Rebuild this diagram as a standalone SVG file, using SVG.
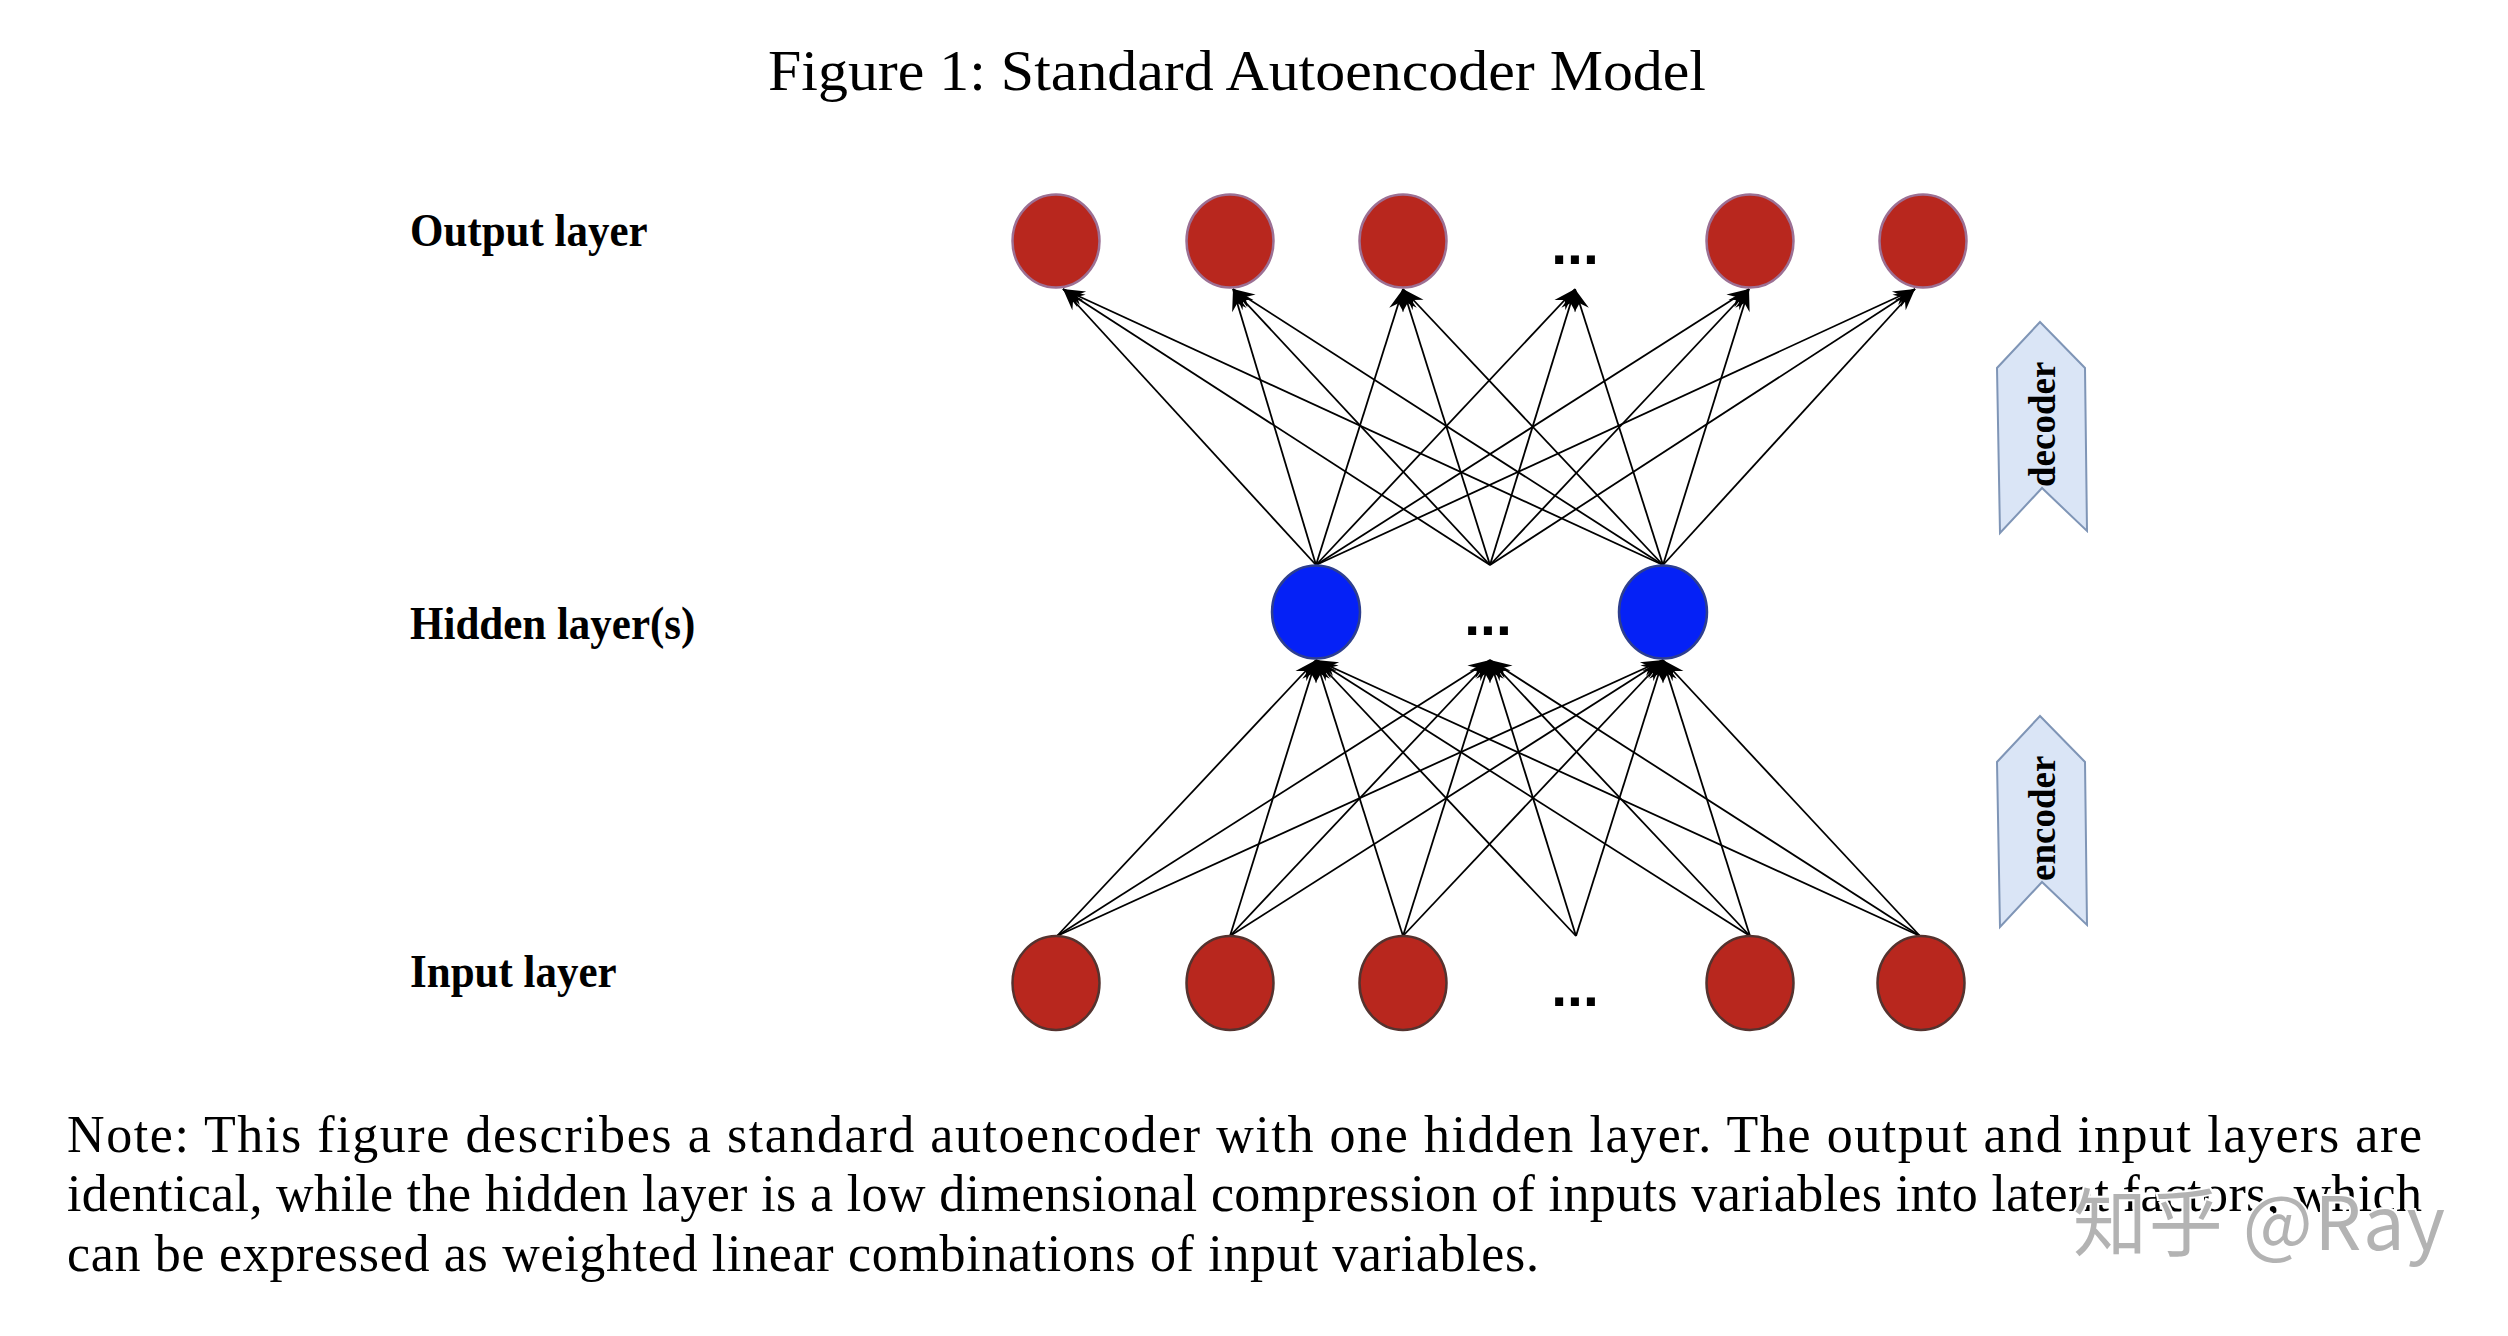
<svg xmlns="http://www.w3.org/2000/svg" width="2508" height="1336" viewBox="0 0 2508 1336">
<style>
.serif{font-family:"Liberation Serif","Times New Roman",serif;fill:#000}
.lbl{font-family:"Liberation Serif","Times New Roman",serif;font-weight:bold;font-size:43px;fill:#000}
.dots{font-family:"Liberation Sans",Arial,sans-serif;font-weight:bold;font-size:57px;fill:#000;text-anchor:middle}
.side{font-family:"Liberation Serif","Times New Roman",serif;font-weight:bold;font-size:37px;fill:#000}
.out{fill:#B8271E;stroke:#9C7094;stroke-width:2.5}
.inp{fill:#B8271E;stroke:#55332F;stroke-width:2.5}
.hid{fill:#0521F6;stroke:#2E3F8E;stroke-width:2.5}
.chev{fill:#DAE5F6;stroke:#7F95B6;stroke-width:2}
.edge{stroke:#000;stroke-width:1.8;fill:none;marker-end:url(#ah)}
.note{font-family:"Liberation Serif","Times New Roman",serif;font-size:52px;fill:#000}
</style>
<defs>
<marker id="ah" markerUnits="userSpaceOnUse" viewBox="-24 -10 26 20" refX="0" refY="0" markerWidth="26" markerHeight="20" orient="auto" overflow="visible">
<path d="M0,0 L-22,-7.5 L-15,0 L-22,7.5 Z" fill="#000"/>
</marker>
</defs>
<rect width="2508" height="1336" fill="#fff"/>

<text id="title" class="serif" x="768" y="90" font-size="58" textLength="938" lengthAdjust="spacingAndGlyphs">Figure 1: Standard Autoencoder Model</text>

<g id="labels">
<text class="lbl" transform="translate(410,246) scale(1,1.1)">Output layer</text>
<text class="lbl" transform="translate(410,639) scale(1,1.1)">Hidden layer(s)</text>
<text class="lbl" transform="translate(410,987) scale(1,1.1)">Input layer</text>
</g>

<g id="connectors">
<!-- decoder: hidden (y=565) to output (y=289) -->
<line class="edge" x1="1316" y1="565" x2="1063" y2="289"/>
<line class="edge" x1="1316" y1="565" x2="1233" y2="289"/>
<line class="edge" x1="1316" y1="565" x2="1403" y2="289"/>
<line class="edge" x1="1316" y1="565" x2="1575" y2="289"/>
<line class="edge" x1="1316" y1="565" x2="1749" y2="289"/>
<line class="edge" x1="1316" y1="565" x2="1915" y2="289"/>
<line class="edge" x1="1490" y1="565" x2="1063" y2="289"/>
<line class="edge" x1="1490" y1="565" x2="1233" y2="289"/>
<line class="edge" x1="1490" y1="565" x2="1403" y2="289"/>
<line class="edge" x1="1490" y1="565" x2="1575" y2="289"/>
<line class="edge" x1="1490" y1="565" x2="1749" y2="289"/>
<line class="edge" x1="1490" y1="565" x2="1915" y2="289"/>
<line class="edge" x1="1663" y1="565" x2="1063" y2="289"/>
<line class="edge" x1="1663" y1="565" x2="1233" y2="289"/>
<line class="edge" x1="1663" y1="565" x2="1403" y2="289"/>
<line class="edge" x1="1663" y1="565" x2="1575" y2="289"/>
<line class="edge" x1="1663" y1="565" x2="1749" y2="289"/>
<line class="edge" x1="1663" y1="565" x2="1915" y2="289"/>
<!-- encoder: input (y=936) to hidden (y=660) -->
<line class="edge" x1="1057" y1="936" x2="1316" y2="660"/>
<line class="edge" x1="1230" y1="936" x2="1316" y2="660"/>
<line class="edge" x1="1403" y1="936" x2="1316" y2="660"/>
<line class="edge" x1="1576" y1="936" x2="1316" y2="660"/>
<line class="edge" x1="1750" y1="936" x2="1316" y2="660"/>
<line class="edge" x1="1920" y1="936" x2="1316" y2="660"/>
<line class="edge" x1="1057" y1="936" x2="1490" y2="660"/>
<line class="edge" x1="1230" y1="936" x2="1490" y2="660"/>
<line class="edge" x1="1403" y1="936" x2="1490" y2="660"/>
<line class="edge" x1="1576" y1="936" x2="1490" y2="660"/>
<line class="edge" x1="1750" y1="936" x2="1490" y2="660"/>
<line class="edge" x1="1920" y1="936" x2="1490" y2="660"/>
<line class="edge" x1="1057" y1="936" x2="1663" y2="660"/>
<line class="edge" x1="1230" y1="936" x2="1663" y2="660"/>
<line class="edge" x1="1403" y1="936" x2="1663" y2="660"/>
<line class="edge" x1="1576" y1="936" x2="1663" y2="660"/>
<line class="edge" x1="1750" y1="936" x2="1663" y2="660"/>
<line class="edge" x1="1920" y1="936" x2="1663" y2="660"/>
</g>

<g id="output-1"><ellipse class="out" cx="1056" cy="241" rx="43.5" ry="46.5"/></g>
<g id="output-2"><ellipse class="out" cx="1230" cy="241" rx="43.5" ry="46.5"/></g>
<g id="output-3"><ellipse class="out" cx="1403" cy="241" rx="43.5" ry="46.5"/></g>
<g id="output-dots"><text class="dots" x="1575" y="264">...</text></g>
<g id="output-4"><ellipse class="out" cx="1750" cy="241" rx="43.5" ry="46.5"/></g>
<g id="output-5"><ellipse class="out" cx="1923" cy="241" rx="43.5" ry="46.5"/></g>

<g id="hidden-1"><ellipse class="hid" cx="1316" cy="612" rx="44" ry="46.5"/></g>
<g id="hidden-dots"><text class="dots" x="1488" y="635">...</text></g>
<g id="hidden-2"><ellipse class="hid" cx="1663" cy="612" rx="44" ry="46.5"/></g>

<g id="input-1"><ellipse class="inp" cx="1056" cy="983" rx="43.5" ry="47"/></g>
<g id="input-2"><ellipse class="inp" cx="1230" cy="983" rx="43.5" ry="47"/></g>
<g id="input-3"><ellipse class="inp" cx="1403" cy="983" rx="43.5" ry="47"/></g>
<g id="input-dots"><text class="dots" x="1575" y="1006">...</text></g>
<g id="input-4"><ellipse class="inp" cx="1750" cy="983" rx="43.5" ry="47"/></g>
<g id="input-5"><ellipse class="inp" cx="1921" cy="983" rx="43.5" ry="47"/></g>

<g id="decoder">
<polygon class="chev" points="2040,322 2085,368 2087,531 2042,488 2000,533 1997,368"/>
<text class="side" transform="translate(2055,487) rotate(-90)">decoder</text>
</g>
<g id="encoder">
<polygon class="chev" points="2040,716 2085,762 2087,925 2042,882 2000,927 1997,762"/>
<text class="side" transform="translate(2055,881) rotate(-90)">encoder</text>
</g>

<g id="note">
<text class="note" x="67" y="1152" textLength="2355" lengthAdjust="spacing">Note: This figure describes a standard autoencoder with one hidden layer. The output and input layers are</text>
<text class="note" x="67" y="1211" textLength="2355" lengthAdjust="spacing">identical, while the hidden layer is a low dimensional compression of inputs variables into latent factors, which</text>
<text class="note" x="67" y="1271" textLength="1472" lengthAdjust="spacing">can be expressed as weighted linear combinations of input variables.</text>
</g>

<text id="watermark" x="2073" y="1250" font-family="'Noto Sans CJK SC','Noto Sans',sans-serif" font-size="74" fill="#B3B3B3" stroke="#fff" stroke-width="4" paint-order="stroke" textLength="372" lengthAdjust="spacing">知乎 @Ray</text>
</svg>
